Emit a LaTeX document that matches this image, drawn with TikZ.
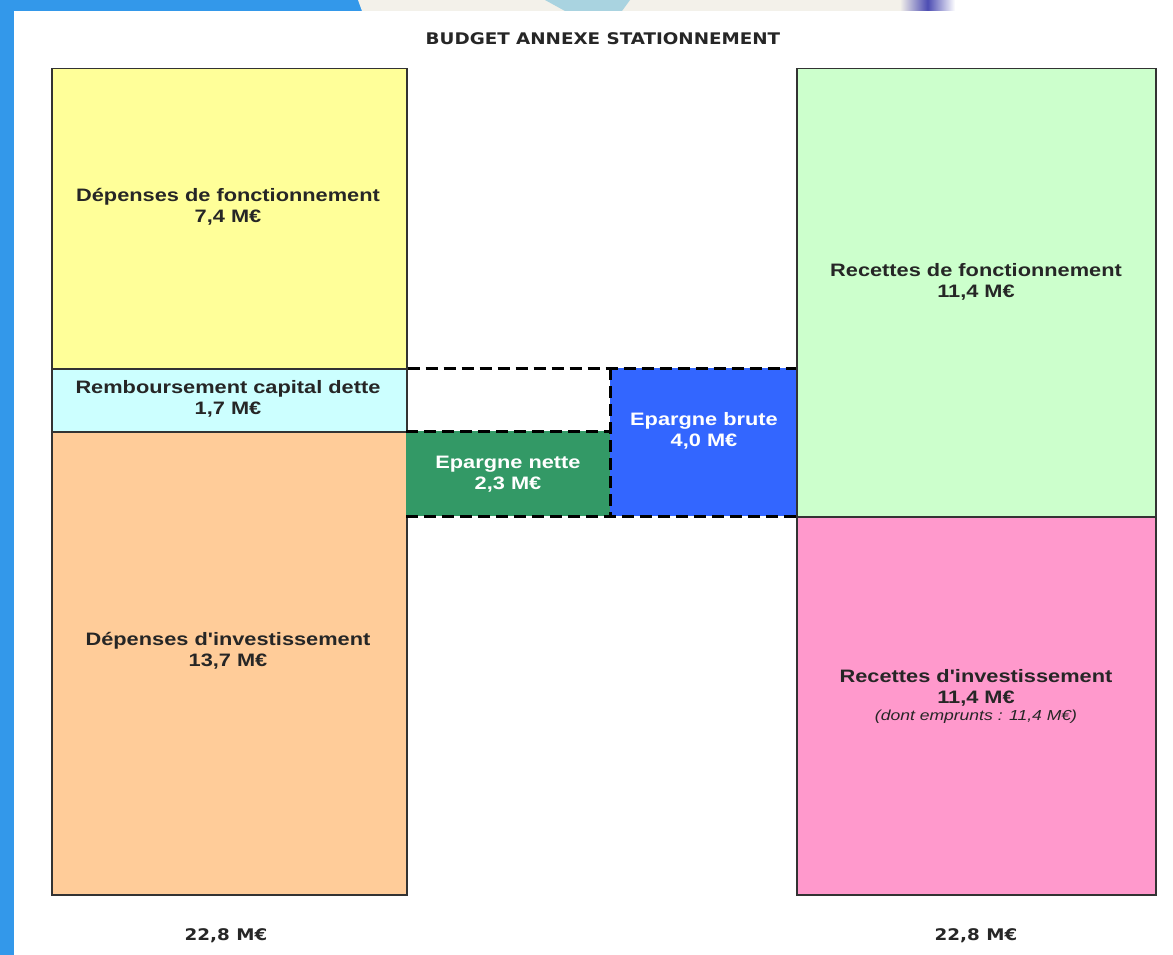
\documentclass[tikz,border=0pt]{standalone}
\usepackage{fontspec}
\setmainfont{Liberation Sans}
\newfontfamily\boxfont[FakeStretch=1.21]{Liberation Sans}
\newfontfamily\ttlfont[FakeStretch=1.145]{DejaVu Sans}
\definecolor{stripblue}{HTML}{3398EA}
\definecolor{creamc}{HTML}{F3F1EA}
\definecolor{skyc}{HTML}{A9D3E0}
\definecolor{yellowc}{HTML}{FFFF99}
\definecolor{cyanc}{HTML}{CCFFFF}
\definecolor{orangec}{HTML}{FFCC99}
\definecolor{greenc}{HTML}{CCFFCC}
\definecolor{pinkc}{HTML}{FF99CC}
\definecolor{nettec}{HTML}{339966}
\definecolor{brutec}{HTML}{3366FF}
\definecolor{boxline}{HTML}{333333}
\begin{document}
\begin{tikzpicture}[x=1pt,y=-1pt,
  box/.style={draw=boxline, line width=1.5pt, rectangle, inner sep=0pt, anchor=north west},
  epbox/.style={rectangle, inner sep=0pt, anchor=north west},
  lbl/.style={align=center, inner sep=0pt, font=\boxfont\bfseries\fontsize{18}{21}\selectfont, text=black!85},
  wlbl/.style={lbl, text=white},
  ttl/.style={inner sep=0pt, font=\ttlfont\bfseries\fontsize{16}{19}\selectfont, text=black!85},
  dashline/.style={black, line width=3pt, dash pattern=on 12pt off 6pt}]
\useasboundingbox (0,0) rectangle (1173,955);
\fill[white] (0,0) rectangle (1173,955);
% decorative frame
\fill[stripblue] (0,0) rectangle (14,955);
\fill[stripblue] (0,0) rectangle (362,11);
\fill[creamc] (358,0) -- (905,0) -- (905,11) -- (362,11) -- cycle;
\fill[skyc] (545,0) -- (630,0) -- (622,11) -- (565,11) -- cycle;
\shade[left color=creamc, right color=white, middle color=gray!60!blue] (900,0) rectangle (955,11);
% title
\node[ttl] (title) at (603,39) {BUDGET ANNEXE STATIONNEMENT};
% left column
\node[box, fill=yellowc, minimum width=355pt, minimum height=300pt] (dfonc) at (51,68) {};
\node[box, fill=cyanc, minimum width=355pt, minimum height=63pt] (dcap) at (51,368) {};
\node[box, fill=orangec, minimum width=355pt, minimum height=463pt] (dinv) at (51,431) {};
% right column
\node[box, fill=greenc, minimum width=359pt, minimum height=448pt] (rfonc) at (796,68) {};
\node[box, fill=pinkc, minimum width=359pt, minimum height=378pt] (rinv) at (796,516) {};
% epargne
\node[epbox, fill=nettec, minimum width=204pt, minimum height=85pt] (nette) at (406,431) {};
\node[epbox, fill=brutec, minimum width=186pt, minimum height=148pt] (brute) at (610,368) {};
\draw[dashline] (dcap.north east) -- (brute.north east);
\draw[dashline] (nette.north west) -- (nette.north east);
\draw[dashline] (brute.north west) -- (brute.south west);
\draw[dashline] (nette.south west) -- (brute.south east);
% labels
\node[lbl] (tdfonc) at (228,207) {Dépenses de fonctionnement\\7,4 M€};
\node[lbl] (tdcap) at (228,399) {Remboursement capital dette\\1,7 M€};
\node[lbl] (tdinv) at (228,651) {Dépenses d'investissement\\13,7 M€};
\node[lbl] (trfonc) at (976,282) {Recettes de fonctionnement\\11,4 M€};
\node[lbl] (trinv) at (976,696) {Recettes d'investissement\\11,4 M€\\[-4pt]{\mdseries\itshape\fontsize{14.5}{16}\selectfont (dont emprunts : 11,4 M€)}};
\node[wlbl] (tnette) at (508,474) {Epargne nette\\2,3 M€};
\node[wlbl] (tbrute) at (704,431) {Epargne brute\\4,0 M€};
% totals
\node[ttl] (totl) at (226,936) {22,8 M€};
\node[ttl] (totr) at (976,936) {22,8 M€};
\end{tikzpicture}
\end{document}
